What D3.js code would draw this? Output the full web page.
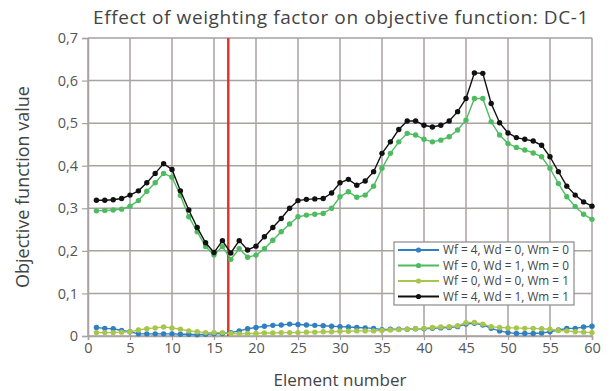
<!DOCTYPE html>
<html>
<head>
<meta charset="utf-8">
<script src="https://cdn.jsdelivr.net/npm/d3@7"></script>
<style>
  html, body { margin: 0; padding: 0; background: #fff; }
  svg { display: block; }
  text { font-family: "Open Sans", "Noto Sans", sans-serif; fill: #4a4a4a; }
</style>
</head>
<body>
<svg id="chart" width="614" height="391"></svg>
<script>
const elements = d3.range(1, 61);
const seriesNames = ["Wf = 4, Wd = 0, Wm = 0", "Wf = 0, Wd = 1, Wm = 0", "Wf = 0, Wd = 0, Wm = 1", "Wf = 4, Wd = 1, Wm = 1"];
const seriesColors = ["#2f7fc1", "#4dbb5f", "#a8c64c", "#111111"];
const xTicks = [0, 5, 10, 15, 20, 25, 30, 35, 40, 45, 50, 55, 60];
const yTicks = [0, 0.1, 0.2, 0.3, 0.4, 0.5, 0.6, 0.7];
const markerElement = 16.7;

const wf4 = [0.020,0.018,0.017,0.013,0.010,0.005,0.005,0.005,0.005,0.005,
             0.004,0.004,0.003,0.004,0.005,0.006,0.008,0.012,0.017,0.020,
             0.023,0.025,0.026,0.028,0.027,0.026,0.025,0.024,0.023,0.022,
             0.021,0.020,0.019,0.018,0.015,0.016,0.016,0.016,0.017,0.017,
             0.018,0.019,0.020,0.022,0.028,0.030,0.026,0.018,0.012,0.008,
             0.006,0.006,0.006,0.007,0.010,0.014,0.018,0.018,0.021,0.023];
const wd1 = [0.294,0.295,0.296,0.298,0.305,0.318,0.340,0.360,0.382,0.373,
             0.330,0.280,0.245,0.210,0.190,0.210,0.180,0.205,0.185,0.190,
             0.205,0.225,0.245,0.263,0.280,0.284,0.286,0.288,0.300,0.327,
             0.339,0.326,0.331,0.352,0.394,0.429,0.456,0.476,0.472,0.462,
             0.456,0.460,0.468,0.484,0.507,0.558,0.558,0.503,0.472,0.452,
             0.443,0.437,0.430,0.421,0.394,0.358,0.327,0.304,0.286,0.274];
const wm1 = [0.008,0.008,0.008,0.009,0.010,0.014,0.017,0.019,0.021,0.019,
             0.016,0.012,0.010,0.008,0.008,0.008,0.006,0.005,0.006,0.006,
             0.007,0.007,0.008,0.008,0.008,0.009,0.009,0.010,0.010,0.011,
             0.011,0.012,0.012,0.012,0.013,0.014,0.015,0.016,0.017,0.018,
             0.020,0.021,0.022,0.024,0.031,0.032,0.028,0.022,0.020,0.019,
             0.019,0.018,0.018,0.017,0.016,0.013,0.012,0.010,0.009,0.008];
const combined = [0.319,0.319,0.320,0.323,0.331,0.341,0.360,0.382,0.405,0.391,
             0.341,0.296,0.255,0.219,0.196,0.224,0.195,0.224,0.202,0.211,
             0.233,0.255,0.276,0.300,0.318,0.321,0.322,0.323,0.336,0.360,
             0.368,0.354,0.364,0.386,0.429,0.456,0.485,0.505,0.505,0.495,
             0.491,0.495,0.505,0.527,0.558,0.618,0.617,0.546,0.501,0.477,
             0.466,0.462,0.458,0.448,0.421,0.386,0.352,0.331,0.315,0.305];

const seriesValues = [wf4, wd1, wm1, combined];

const svg = d3.select("#chart");
const m = { left: 88, right: 592, top: 38, bottom: 336 };
const x = d3.scaleLinear().domain([0, 60]).range([m.left, m.right]);
const y = d3.scaleLinear().domain([0, 0.7]).range([m.bottom, m.top]);
const gridColor = "#a8a2a0";

// grid
svg.append("g").selectAll("line").data(xTicks).join("line")
  .attr("x1", d => x(d)).attr("x2", d => x(d))
  .attr("y1", m.top).attr("y2", m.bottom)
  .attr("stroke", gridColor).attr("stroke-width", 1.5);
svg.append("g").selectAll("line").data(yTicks).join("line")
  .attr("x1", m.left).attr("x2", m.right)
  .attr("y1", d => y(d)).attr("y2", d => y(d))
  .attr("stroke", gridColor).attr("stroke-width", 1.5);

// axes
const fmt = d => d === 0 ? "0" : d3.format(".1f")(d).replace(".", ",");
const yAxis = svg.append("g").attr("transform", `translate(${m.left},0)`)
  .call(d3.axisLeft(y).tickValues(yTicks).tickFormat(fmt).tickSize(6).tickPadding(4));
const xAxis = svg.append("g").attr("transform", `translate(0,${m.bottom})`)
  .call(d3.axisBottom(x).tickValues(xTicks).tickFormat(d3.format("d")).tickSize(4).tickPadding(3));
[yAxis, xAxis].forEach(a => {
  a.select(".domain").attr("stroke", gridColor).attr("stroke-width", 1.5);
  a.selectAll(".tick line").attr("stroke", gridColor).attr("stroke-width", 1.2);
  a.selectAll(".tick text").style("font-size", "14.5px").style("fill", "#555");
});

// red marker line
svg.append("line")
  .attr("x1", x(markerElement)).attr("x2", x(markerElement))
  .attr("y1", m.top).attr("y2", m.bottom)
  .attr("stroke", "#e5352b").attr("stroke-width", 2.5);

// series
const line = d3.line().x((d, i) => x(elements[i])).y(d => y(d));
seriesValues.forEach((vals, si) => {
  const g = svg.append("g");
  g.append("path").datum(vals).attr("d", line)
    .attr("fill", "none").attr("stroke", seriesColors[si]).attr("stroke-width", 1.4);
  g.selectAll("circle").data(vals).join("circle")
    .attr("cx", (d, i) => x(elements[i])).attr("cy", d => y(d))
    .attr("r", 2.7).attr("fill", seriesColors[si]);
});

// title and labels
svg.append("text").attr("x", 341).attr("y", 24).attr("text-anchor", "middle")
  .style("font-size", "19px").style("letter-spacing", "0.6px").style("fill", "#444")
  .text("Effect of weighting factor on objective function: DC-1");
svg.append("text").attr("transform", `translate(29,${(m.top + m.bottom) / 2}) rotate(-90)`)
  .attr("text-anchor", "middle").style("font-size", "18px").style("fill", "#444")
  .text("Objective function value");
svg.append("text").attr("x", (m.left + m.right) / 2).attr("y", 386).attr("text-anchor", "middle")
  .style("font-size", "17px").style("fill", "#444")
  .text("Element number");

// legend
const lg = svg.append("g").attr("transform", "translate(394,242)");
lg.append("rect").attr("width", 180).attr("height", 63)
  .attr("fill", "#fff").attr("stroke", "#8a8a8a").attr("stroke-width", 1.2);
seriesNames.forEach((name, i) => {
  const yy = 8 + i * 15.5;
  lg.append("line").attr("x1", 4).attr("x2", 45).attr("y1", yy).attr("y2", yy)
    .attr("stroke", seriesColors[i]).attr("stroke-width", 2);
  lg.append("circle").attr("cx", 24.5).attr("cy", yy).attr("r", 2.6).attr("fill", seriesColors[i]);
  lg.append("text").attr("x", 49).attr("y", yy + 4).style("font-size", "11.8px").style("fill", "#444")
    .text(name);
});
</script>
</body>
</html>
